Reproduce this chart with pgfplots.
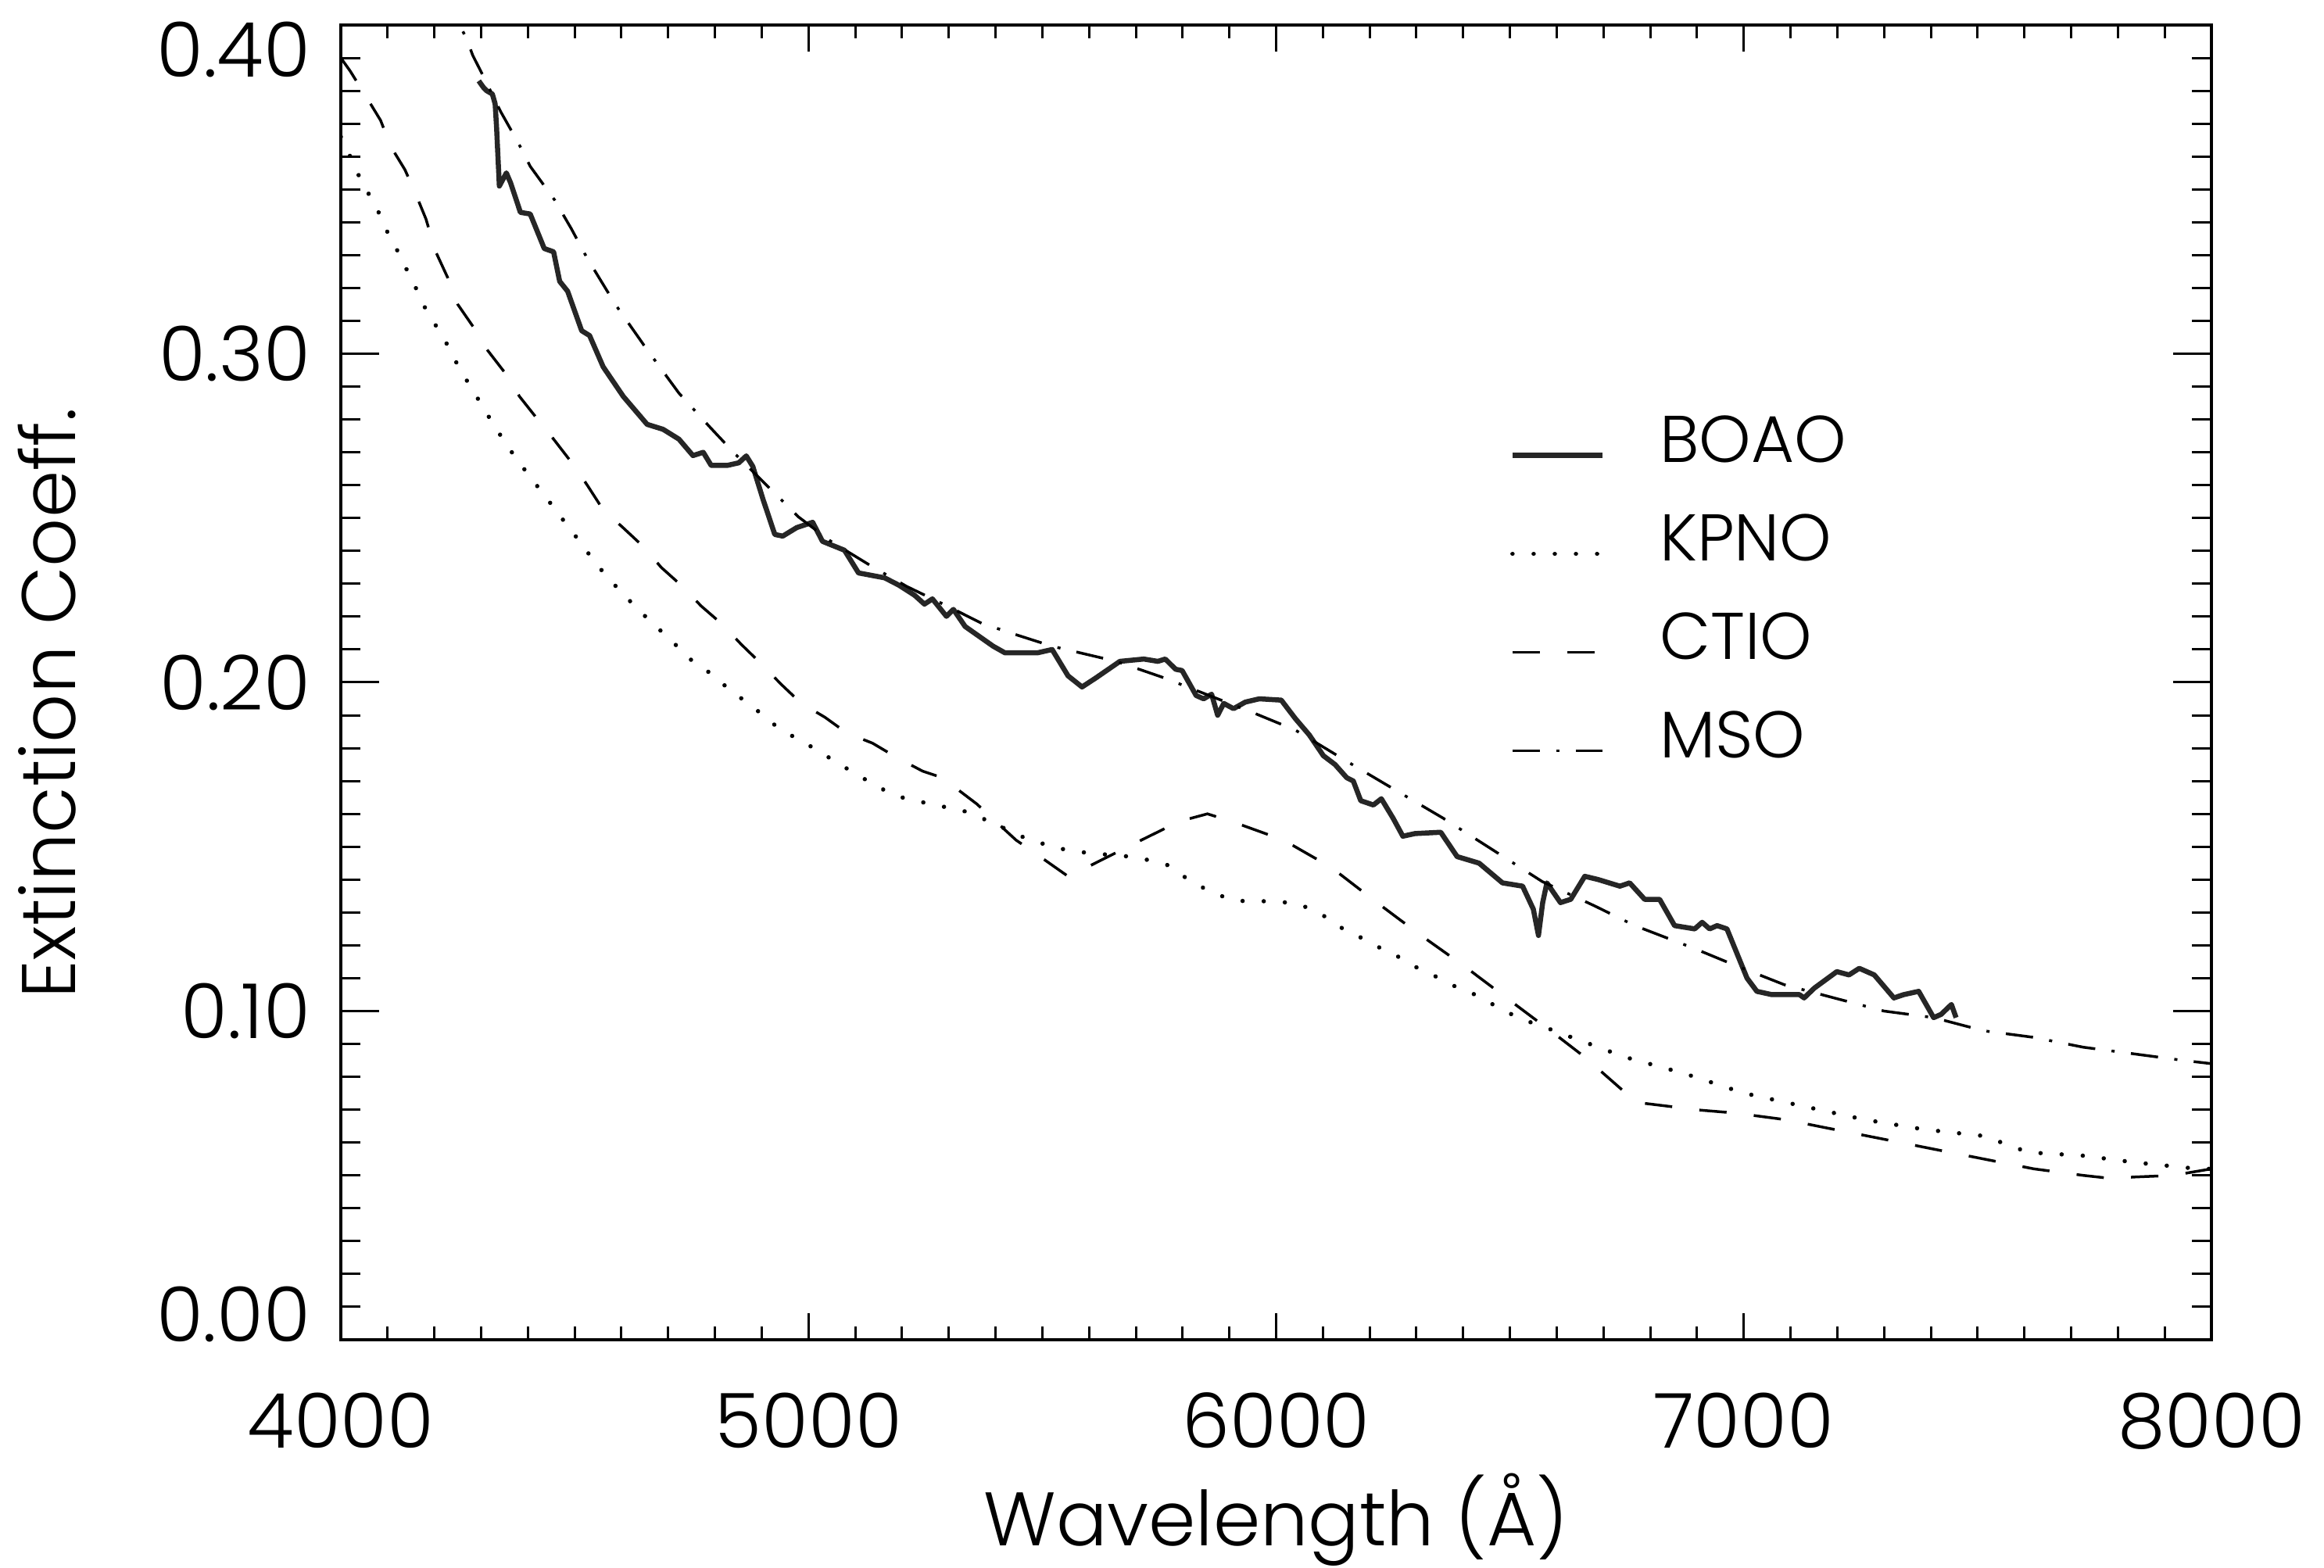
\documentclass[border=0pt]{standalone}
\usepackage{fontspec}
\IfFontExistsTF{Poppins Light}{\setmainfont{Poppins Light}}{\setmainfont{Poppins}}
\usepackage{pgfplots}
\pgfplotsset{compat=1.18}
\newcommand\tickfont{\fontsize{19.4pt}{23pt}\selectfont}
\newcommand\legfont{\fontsize{16.9pt}{20pt}\selectfont}
\begin{document}
\begin{tikzpicture}
\useasboundingbox (0,0) rectangle (594.6pt,401.2pt);
\begin{axis}[
  at={(87.2pt,58.4pt)}, anchor=south west,
  width=478.6pt, height=336.4pt, scale only axis,
  xmin=4000, xmax=8000, ymin=0, ymax=0.4,
  xtick={4000,5000,6000,7000,8000},
  xticklabels={4000,5000,6000,7000,8000},
  ytick={0,0.1,0.2,0.3,0.4},
  yticklabels={\raisebox{6.6pt}[\height][\depth]{0.00},0.10,0.20,0.30,\raisebox{-6.2pt}[\height][\depth]{0.40}},
  minor x tick num=9, minor y tick num=9,
  tick align=inside, xtick pos=both, ytick pos=both,
  tick style={line width=0.6pt, black},
  xtick style={/pgfplots/major tick length=6.8pt,/pgfplots/minor tick length=3.4pt},
  ytick style={/pgfplots/major tick length=9.8pt,/pgfplots/minor tick length=5pt},
  axis line style={line width=0.7pt},
  ticklabel style={font=\tickfont},
  xticklabel style={anchor=base, inner sep=0pt, yshift=-27.8pt},
  yticklabel style={anchor=east, inner sep=0pt, xshift=-7.6pt},
  xlabel={Wavelength (Å)}, ylabel={Extinction Coeff.},
  label style={font=\tickfont},
  xlabel style={at={(axis description cs:0.5,-0.1564)}, anchor=base, inner sep=0pt},
  ylabel style={at={(axis description cs:-0.1417,0.484)}, anchor=base, inner sep=0pt},
  legend cell align=left,
  legend image code/.code={\draw[#1] (0pt,1.7pt) -- (23pt,1.7pt);},
  legend style={at={(axis cs:6500,0.2813)}, anchor=north west, draw=none, fill=none,
    inner sep=0pt, outer sep=0pt, font=\legfont, row sep=13.2pt, column sep=14pt,
    cells={anchor=base west}, nodes={inner sep=0pt, text height=12pt, text depth=0pt}},
]
% BOAO
\addplot[black!85, line width=1.3pt, line join=round] table {
4295 0.383
4305 0.381
4312 0.380
4324 0.379
4330 0.376
4333 0.369
4339 0.351
4354 0.355
4363 0.352
4384 0.343
4405 0.3425
4435 0.332
4455 0.331
4468 0.322
4485 0.319
4515 0.307
4532 0.3055
4561 0.296
4604 0.287
4655 0.2785
4689 0.277
4723 0.274
4753 0.269
4775 0.270
4792 0.266
4826 0.266
4851 0.2668
4867 0.2689
4881 0.2657
4903 0.2556
4928 0.245
4945 0.2445
4975 0.2471
5009 0.2487
5030 0.2429
5077 0.2402
5107 0.2333
5163 0.2318
5193 0.2296
5227 0.2265
5248 0.2238
5265 0.2254
5295 0.2201
5310 0.2222
5335 0.217
5365 0.214
5395 0.211
5420 0.209
5444 0.209
5490 0.209
5521 0.210
5555 0.202
5585 0.1986
5615 0.2014
5666 0.2064
5717 0.2071
5747 0.2064
5763 0.2071
5785 0.204
5799 0.2036
5829 0.196
5845 0.195
5862 0.1964
5875 0.190
5888 0.1936
5909 0.192
5934 0.194
5964 0.195
6011 0.1946
6041 0.189
6071 0.184
6101 0.1777
6126 0.175
6151 0.171
6165 0.170
6181 0.164
6208 0.1627
6225 0.1646
6250 0.1587
6271 0.1532
6297 0.154
6352 0.1544
6387 0.147
6434 0.145
6484 0.139
6527 0.138
6550 0.131
6561 0.123
6570 0.133
6579 0.139
6608 0.133
6630 0.134
6660 0.141
6689 0.140
6735 0.138
6756 0.139
6788 0.134
6820 0.134
6852 0.126
6895 0.125
6911 0.127
6927 0.125
6943 0.126
6964 0.125
7007 0.110
7028 0.106
7060 0.105
7119 0.105
7129 0.104
7151 0.107
7199 0.112
7225 0.111
7247 0.113
7279 0.111
7321 0.104
7342 0.105
7374 0.106
7406 0.098
7422 0.099
7444 0.102
7454 0.098
};
\addlegendentry{BOAO}
% KPNO
\addplot[black, line width=1.1pt, line cap=round, dash pattern=on 0.01pt off 5.4pt] table {
4000 0.366
4017 0.361
4032 0.356
4050 0.351
4070 0.346
4088 0.341
4105 0.3352
4127 0.3299
4144 0.3246
4165 0.3187
4182 0.3134
4203 0.3086
4225 0.3034
4244 0.2981
4263 0.2933
4284 0.2885
4306 0.2832
4327 0.2784
4348 0.2737
4374 0.2683
4399 0.2636
4425 0.2588
4451 0.254
4476 0.2493
4502 0.2445
4527 0.2397
4553 0.2349
4578 0.2307
4608 0.2264
4634 0.2222
4664 0.2185
4694 0.2143
4723 0.2105
4753 0.2063
4787 0.2031
4817 0.1995
4851 0.1957
4886 0.192
4920 0.1878
4954 0.1846
4988 0.1819
5026 0.1788
5060 0.1756
5099 0.1724
5150 0.168
5200 0.165
5260 0.163
5330 0.161
5400 0.157
5444 0.1537
5478 0.152
5521 0.150
5563 0.1487
5606 0.148
5687 0.147
5725 0.146
5768 0.1444
5802 0.141
5837 0.138
5875 0.1354
5914 0.1335
5956 0.1335
5999 0.1333
6041 0.1328
6076 0.131
6114 0.128
6148 0.1245
6187 0.122
6225 0.119
6263 0.1164
6297 0.1135
6335 0.111
6374 0.108
6412 0.106
6450 0.103
6484 0.1005
6522 0.0976
6557 0.096
6638 0.0917
6746 0.086
6873 0.081
7001 0.075
7129 0.071
7257 0.067
7385 0.064
7513 0.062
7609 0.057
7726 0.056
7833 0.054
7971 0.052
8000 0.052
};
\addlegendentry{KPNO}
% CTIO
\addplot[black, line width=0.7pt, dash pattern=on 7pt off 7pt] table {
4000 0.390
4020 0.386
4055 0.378
4085 0.371
4107 0.363
4137 0.356
4159 0.349
4182 0.341
4203 0.331
4229 0.323
4250 0.315
4284 0.308
4314 0.301
4352 0.294
4382 0.287
4421 0.280
4455 0.274
4493 0.267
4527 0.260
4561 0.2525
4604 0.247
4647 0.2413
4685 0.235
4732 0.229
4770 0.2233
4817 0.2175
4856 0.2116
4898 0.2058
4941 0.1995
4984 0.1937
5035 0.1894
5082 0.1846
5137 0.1815
5188 0.1772
5244 0.173
5286 0.171
5360 0.163
5444 0.152
5478 0.1487
5555 0.141
5581 0.1427
5683 0.150
5793 0.1577
5853 0.160
5905 0.1577
6016 0.152
6118 0.1437
6211 0.1335
6305 0.1235
6404 0.1135
6502 0.103
6596 0.093
6660 0.086
6756 0.074
6783 0.072
6841 0.071
6895 0.070
6980 0.069
7087 0.067
7193 0.064
7300 0.061
7406 0.058
7513 0.055
7620 0.052
7726 0.050
7790 0.049
7833 0.0495
7918 0.050
8000 0.052
};
\addlegendentry{CTIO}
% MSO
\addplot[black, line width=0.7pt, dash pattern=on 7pt off 4.2pt on 0.8pt off 4.2pt] table {
4220 0.410
4248 0.4017
4269 0.3958
4282 0.3908
4303 0.3849
4342 0.3736
4380 0.364
4405 0.357
4457 0.3468
4493 0.338
4527 0.329
4587 0.315
4655 0.3012
4723 0.288
4789 0.2777
4843 0.2695
4911 0.2599
4979 0.2503
5048 0.2429
5133 0.2355
5210 0.2292
5300 0.2230
5370 0.2180
5444 0.2145
5521 0.211
5658 0.2064
5760 0.2014
5947 0.191
6041 0.1855
6151 0.176
6246 0.168
6357 0.1587
6467 0.1487
6569 0.1394
6681 0.132
6767 0.126
6895 0.119
6980 0.114
7087 0.108
7193 0.104
7300 0.100
7406 0.098
7513 0.094
7620 0.092
7726 0.089
7833 0.087
7939 0.085
8000 0.084
};
\addlegendentry{MSO}
\end{axis}
\end{tikzpicture}
\end{document}
